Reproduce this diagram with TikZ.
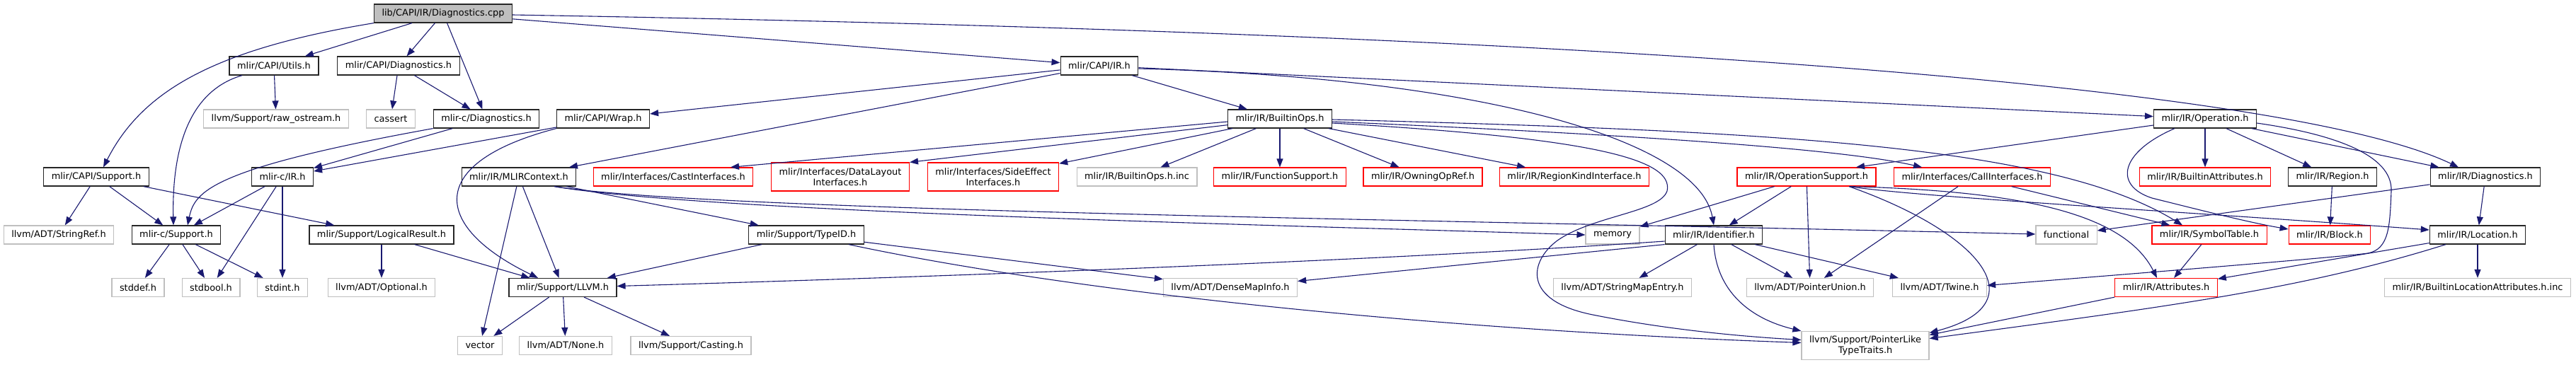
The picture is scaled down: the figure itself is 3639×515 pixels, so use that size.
\documentclass[tikz,border=0pt]{standalone}
\usepackage{fontspec}
\setmainfont{DejaVu Sans}
\usetikzlibrary{arrows.meta}
\definecolor{aresta}{RGB}{25,25,112}
\definecolor{cinza}{RGB}{191,191,191}

\begin{document}
\begin{tikzpicture}[x=1pt,y=-1pt,
    box/.style={draw=black!85,fill=white,line width=1.2pt,inner xsep=11pt,inner ysep=3pt,
      minimum height=26pt,font=\fontsize{12.9}{15}\selectfont},
    raiz/.style={box,fill=cinza},
    ext/.style={box,draw=cinza},
    trunc/.style={box,draw=red},
    duas/.style={align=center,minimum height=40pt},
    seta/.style={draw=aresta,line width=1.1pt,-{Triangle[length=12pt,width=9pt]}}]
    % moldura
    \useasboundingbox (0,0) rectangle (3639,515);

    % linha 0 e 1
    \node[raiz] (root) at (626,19) {lib/CAPI/IR/Diagnostics.cpp};
    \node[box] (capiutils) at (387,93) {mlir/CAPI/Utils.h};
    \node[box] (capidiag) at (563,93) {mlir/CAPI/Diagnostics.h};
    \node[box] (capiir) at (1553,93) {mlir/CAPI/IR.h};

    % linha 2
    \node[ext] (rawos) at (390,168) {llvm/Support/raw\_ostream.h};
    \node[ext] (cassert) at (552,168) {cassert};
    \node[box] (cdiag) at (687,168) {mlir-c/Diagnostics.h};
    \node[box] (wrap) at (852,168) {mlir/CAPI/Wrap.h};
    \node[box] (builtinops) at (1808,168) {mlir/IR/BuiltinOps.h};
    \node[box] (operation) at (3115,168) {mlir/IR/Operation.h};

    % linha 3
    \node[box] (capisup) at (136,250) {mlir/CAPI/Support.h};
    \node[box] (cir) at (399,250) {mlir-c/IR.h};
    \node[box] (mlirctx) at (733,250) {mlir/IR/MLIRContext.h};
    \node[trunc] (castif) at (951,250) {mlir/Interfaces/CastInterfaces.h};
    \node[trunc,duas] (dlif) at (1187,250) {mlir/Interfaces/DataLayout\\Interfaces.h};
    \node[trunc,duas] (seif) at (1403,250) {mlir/Interfaces/SideEffect\\Interfaces.h};
    \node[ext] (opsinc) at (1606,250) {mlir/IR/BuiltinOps.h.inc};
    \node[trunc] (funcsup) at (1808,250) {mlir/IR/FunctionSupport.h};
    \node[trunc] (owning) at (2010,250) {mlir/IR/OwningOpRef.h};
    \node[trunc] (regionkind) at (2224,250) {mlir/IR/RegionKindInterface.h};
    \node[trunc] (opsupport) at (2552,250) {mlir/IR/OperationSupport.h};
    \node[trunc] (callif) at (2786,250) {mlir/Interfaces/CallInterfaces.h};
    \node[trunc] (builtinattr) at (3115,250) {mlir/IR/BuiltinAttributes.h};
    \node[box] (region) at (3295,250) {mlir/IR/Region.h};
    \node[box] (irdiag) at (3511,250) {mlir/IR/Diagnostics.h};

    % linha 4
    \node[ext] (stringref) at (83,332) {llvm/ADT/StringRef.h};
    \node[box] (csupport) at (249,332) {mlir-c/Support.h};
    \node[box] (logical) at (539,332) {mlir/Support/LogicalResult.h};
    \node[box] (typeid) at (1139,332) {mlir/Support/TypeID.h};
    \node[ext] (memory) at (2278,332) {memory};
    \node[box] (identifier) at (2421,332) {mlir/IR/Identifier.h};
    \node[ext] (functional) at (2919,332) {functional};
    \node[trunc] (symtab) at (3121,332) {mlir/IR/SymbolTable.h};
    \node[trunc] (block) at (3291,332) {mlir/IR/Block.h};
    \node[box] (location) at (3500,332) {mlir/IR/Location.h};

    % linha 5
    \node[ext] (stddef) at (195,406.5) {stddef.h};
    \node[ext] (stdbool) at (298,406.5) {stdbool.h};
    \node[ext] (stdint) at (399,406.5) {stdint.h};
    \node[ext] (optional) at (539,406.5) {llvm/ADT/Optional.h};
    \node[box] (llvmh) at (795,406.5) {mlir/Support/LLVM.h};
    \node[ext] (densemap) at (1738,406.5) {llvm/ADT/DenseMapInfo.h};
    \node[ext] (stringmap) at (2292,406.5) {llvm/ADT/StringMapEntry.h};
    \node[ext] (ptrunion) at (2557,406.5) {llvm/ADT/PointerUnion.h};
    \node[ext] (twine) at (2740,406.5) {llvm/ADT/Twine.h};
    \node[trunc] (attributes) at (3060,406.5) {mlir/IR/Attributes.h};
    \node[ext] (locinc) at (3500,406.5) {mlir/IR/BuiltinLocationAttributes.h.inc};

    % linha 6
    \node[ext] (vector) at (678,488.5) {vector};
    \node[ext] (none) at (799,488.5) {llvm/ADT/None.h};
    \node[ext] (casting) at (976,488.5) {llvm/Support/Casting.h};
    \node[ext,duas] (ptrlike) at (2635,488.5) {llvm/Support/PointerLike\\TypeTraits.h};

    % arestas da raiz
    \draw[seta] (root.south west) .. controls (300,70) and (200,130) .. ([xshift=10pt]capisup.north);
    \draw[seta] (root) -- (capiutils);
    \draw[seta] (root) -- (capidiag);
    \draw[seta] (root) -- (cdiag);
    \draw[seta] (root) -- (capiir);
    \draw[seta] ([yshift=-2pt]root.east) .. controls (2400,50) and (3250,130) .. ([xshift=-38pt]irdiag.north);

    % api C
    \draw[seta] (capiutils) -- (rawos);
    \draw[seta] ([xshift=-45pt]capiutils.south) .. controls (262,130) and (243,220) .. ([xshift=-4pt]csupport.north);
    \draw[seta] (capidiag) -- (cassert);
    \draw[seta] (capidiag) -- (cdiag);
    \draw[seta] (cdiag.south west) .. controls (300,238) and (275,270) .. ([xshift=16pt]csupport.north);
    \draw[seta] (cdiag) -- (cir);
    \draw[seta] (wrap) -- (cir);
    \draw[seta] (wrap.south west) .. controls (600,230) and (610,320) .. ([xshift=-35pt]llvmh.north);
    \draw[seta] (cir) -- (csupport);
    \draw[seta] (cir) -- (stdbool);
    \draw[seta] (cir) -- (stdint);
    \draw[seta] (capisup) -- (stringref);
    \draw[seta] (capisup) -- (csupport);
    \draw[seta] (capisup) -- (logical);
    \draw[seta] (csupport) -- (stddef);
    \draw[seta] (csupport) -- (stdbool);
    \draw[seta] (csupport) -- (stdint);
    \draw[seta] (logical) -- (optional);
    \draw[seta] (logical) -- (llvmh);

    % mlir/CAPI/IR.h
    \draw[seta] (capiir) -- (wrap);
    \draw[seta] (capiir) -- (mlirctx);
    \draw[seta] (capiir) -- (builtinops);
    \draw[seta] (capiir) -- (operation);
    \draw[seta] ([yshift=-4pt]capiir.east) .. controls (2100,110) and (2400,200) .. (identifier.north);

    % BuiltinOps
    \draw[seta] ([yshift=-4pt]builtinops.west) -- ([xshift=81pt]castif.north);
    \draw[seta] (builtinops) -- (dlif.north east);
    \draw[seta] (builtinops) -- (seif);
    \draw[seta] (builtinops) -- (opsinc);
    \draw[seta] (builtinops) -- (funcsup);
    \draw[seta] (builtinops) -- (owning);
    \draw[seta] (builtinops) -- (regionkind);
    \draw[seta] ([yshift=-4pt]builtinops.east) .. controls (2300,190) and (2600,210) .. ([xshift=-71pt]callif.north);
    \draw[seta] ([yshift=-1pt]builtinops.east) .. controls (2500,185) and (2900,205) .. ([xshift=-38pt]symtab.north);
    \draw[seta] ([yshift=-6pt]builtinops.east) .. controls (2250,195) and (2365,225) .. (2355,270)
        .. controls (2345,300) and (2250,305) .. (2200,340)
        .. controls (2160,370) and (2150,425) .. (2250,445)
        .. controls (2350,465) and (2450,475) .. ([yshift=8pt]ptrlike.west);

    % Operation
    \draw[seta] ([yshift=-9pt]operation.west) -- ([xshift=70pt]opsupport.north);
    \draw[seta] (operation) -- (builtinattr);
    \draw[seta] (operation) -- (region);
    \draw[seta] (operation) -- (irdiag);
    \draw[seta] ([xshift=-43pt]operation.south) .. controls (2995,215) and (2985,262) .. (3040,280)
        .. controls (3120,300) and (3180,315) .. ([yshift=8pt]block.west);
    \draw[seta] ([yshift=-6pt]operation.east) .. controls (3300,190) and (3380,220) .. (3378,270)
        .. controls (3376,320) and (3375,352) .. (3345,358)
        .. controls (3300,364) and (3000,388) .. ([yshift=3pt]twine.east);
    \draw[seta] (irdiag) -- (location);
    \draw[seta] (irdiag) -- (functional);
    \draw[seta] (region) -- (block);
    \draw[seta] (symtab) -- (attributes);
    \draw[seta] (location) -- (locinc);
    \draw[seta] (location) -- (attributes);
    \draw[seta] ([xshift=-45pt]location.south) .. controls (3250,410) and (3050,435) .. ([yshift=10pt]ptrlike.east);
    \draw[seta] (attributes.south west) -- ([yshift=15pt]ptrlike.east);

    % OperationSupport e CallInterfaces
    \draw[seta] (opsupport) -- (memory);
    \draw[seta] (opsupport) -- (identifier);
    \draw[seta] (opsupport) -- (ptrunion);
    \draw[seta] ([xshift=60pt]opsupport.south) .. controls (2800,330) and (2880,430) .. ([yshift=18pt]ptrlike.east);
    \draw[seta] ([xshift=61pt]opsupport.south) .. controls (2700,278) and (3100,300) .. ([yshift=7pt]location.west);
    \draw[seta] ([xshift=62pt]opsupport.south) .. controls (2850,270) and (3000,300) .. ([xshift=-13pt]attributes.north);
    \draw[seta] (callif) -- (ptrunion);
    \draw[seta] (callif) -- (symtab);

    % Identifier
    \draw[seta] ([yshift=-9pt]identifier.west) .. controls (1900,372) and (1200,395) .. ([yshift=2pt]llvmh.east);
    \draw[seta] (identifier.south west) -- ([yshift=9pt]densemap.east);
    \draw[seta] (identifier) -- (stringmap);
    \draw[seta] (identifier) -- (ptrunion);
    \draw[seta] (identifier) -- (twine);
    \draw[seta] (identifier.south) .. controls (2425,410) and (2470,450) .. (ptrlike.north west);

    % MLIRContext e TypeID
    \draw[seta] (mlirctx) -- (vector);
    \draw[seta] (mlirctx) -- (llvmh);
    \draw[seta] (mlirctx) -- (typeid);
    \draw[seta] ([xshift=50pt]mlirctx.south) .. controls (1000,300) and (1800,318) .. (memory.west);
    \draw[seta] ([xshift=50pt]mlirctx.south) .. controls (1000,298) and (2000,310) .. ([yshift=1pt]functional.west);
    \draw[seta] (typeid) -- (llvmh);
    \draw[seta] (typeid) -- (densemap);
    \draw[seta] ([xshift=60pt]typeid.south) .. controls (1500,410) and (2000,465) .. ([yshift=4pt]ptrlike.west);

    % LLVM.h
    \draw[seta] (llvmh) -- (vector);
    \draw[seta] (llvmh) -- (none);
    \draw[seta] (llvmh) -- (casting);
\end{tikzpicture}
\end{document}
